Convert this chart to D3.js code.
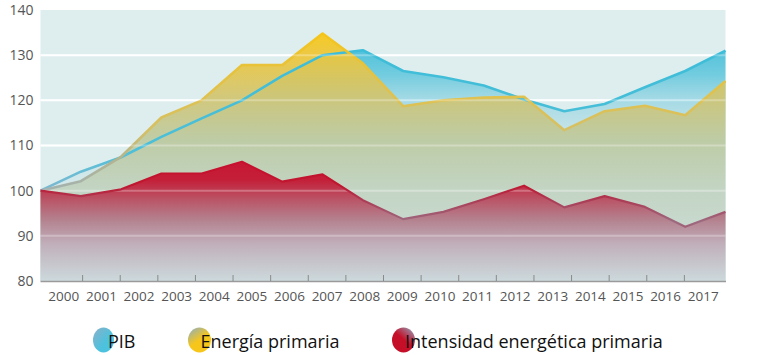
<!DOCTYPE html>
<html>
<head>
<meta charset="utf-8">
<script src="https://cdn.jsdelivr.net/npm/d3@7"></script>
<style>
  html, body { margin: 0; padding: 0; background: #ffffff; }
  svg { display: block; }
  text { font-family: "Open Sans", "Noto Sans", sans-serif; }
</style>
</head>
<body>
<svg id="chart" width="768" height="355"></svg>
<script>
const years = [2000, 2001, 2002, 2003, 2004, 2005, 2006, 2007, 2008, 2009, 2010, 2011, 2012, 2013, 2014, 2015, 2016, 2017];
const pib        = [100, 104.2, 107.4, 111.9, 116.0, 120.0, 125.4, 130.0, 131.1, 126.5, 125.1, 123.3, 120.2, 117.6, 119.2, 122.9, 126.5, 131.0];
const energia    = [100, 102.1, 107.5, 116.2, 120.0, 127.8, 127.8, 134.8, 128.2, 118.7, 120.0, 120.6, 120.8, 113.4, 117.6, 118.8, 116.7, 124.3];
const intensidad = [100, 98.8, 100.3, 103.8, 103.8, 106.4, 102.0, 103.6, 97.9, 93.7, 95.3, 98.1, 101.1, 96.3, 98.8, 96.4, 92.0, 95.3];
const yTicks = [80, 90, 100, 110, 120, 130, 140];
const seriesNames = ["PIB", "Energía primaria", "Intensidad energética primaria"];

const svg = d3.select("#chart");
const pLeft = 40.5, pRight = 725.5, pTop = 10, pBottom = 281;

const x = d3.scaleLinear().domain([2000, 2017]).range([pLeft, pRight]);
const y = d3.scaleLinear().domain([80, 140]).range([pBottom, pTop]);
const xLab = d3.scaleBand().domain(years).range([45, 722]);

const defs = svg.append("defs");
function vGradPx(id, stops) {
  const g = defs.append("linearGradient").attr("id", id)
    .attr("gradientUnits", "userSpaceOnUse")
    .attr("x1", 0).attr("x2", 0).attr("y1", pTop).attr("y2", pBottom);
  stops.forEach(s => g.append("stop")
    .attr("offset", Math.max(0, Math.min(1, (s[0] - pTop) / (pBottom - pTop))))
    .attr("stop-color", s[1]).attr("stop-opacity", s[2] == null ? 1 : s[2]));
}

vGradPx("gBlue", [[10, "#38bbd8", 0.95], [50, "#42bdd8", 0.9], [75, "#4fc1da", 0.75], [100, "#6cc6dc", 0.5], [140, "#9ccfdc", 0.3], [281, "#cfe2e6", 0.1]]);
vGradPx("gYellow", [[30, "#f8c816", 0.96], [60, "#ebc640", 0.93], [100, "#cfc472", 0.9], [140, "#bcc89c", 0.88], [190, "#c0d1bd", 0.86], [281, "#cddfdc", 0.85]]);
vGradPx("gRed", [[160, "#c8102e", 0.97], [180, "#c41632", 0.95], [200, "#b94a5f", 0.92], [220, "#b27888", 0.9], [244, "#bfa9b7", 0.88], [281, "#ccd8dc", 0.85]]);

vGradPx("sBlue", [[10, "#36bcd9"], [150, "#4dbfd8"], [175, "#6cbcd4"], [195, "#86b6cc"]]);
vGradPx("sYellow", [[30, "#f7c516"], [70, "#e6c23e"], [130, "#d6c064"], [158, "#b4b48e"], [190, "#a3b2b0"]]);
vGradPx("sRed", [[160, "#c8102e"], [185, "#c0162f"], [202, "#aa405a"], [222, "#9c6a80"], [235, "#a85068"]]);

const legGrads = [
  ["lBlue", "#8cb0c8", "#4cc2de", [0, 0, 1, 1]],
  ["lYellow", "#8aaec6", "#f7c61a", [0, 0, 0.6, 1]],
  ["lRed", "#8eaac4", "#c50f28", [1, 0, 0.3, 0.9]]
];
legGrads.forEach(([id, c0, c1, v]) => {
  const g = defs.append("linearGradient").attr("id", id)
    .attr("x1", v[0]).attr("y1", v[1]).attr("x2", v[2]).attr("y2", v[3]);
  g.append("stop").attr("offset", 0).attr("stop-color", c0);
  g.append("stop").attr("offset", 0.6).attr("stop-color", c1);
  g.append("stop").attr("offset", 1).attr("stop-color", c1);
});

// plot background
svg.append("rect").attr("x", pLeft).attr("y", pTop)
  .attr("width", pRight - pLeft).attr("height", pBottom - pTop)
  .attr("fill", "#deeeee");

const gridVals = yTicks.filter(d => d > 80 && d < 140);
// gridlines (under areas)
svg.append("g").selectAll("line")
  .data(gridVals)
  .join("line")
  .attr("x1", pLeft).attr("x2", pRight)
  .attr("y1", d => y(d)).attr("y2", d => y(d))
  .attr("stroke", "#ffffff").attr("stroke-width", 2);

const area = d3.area().x((d, i) => x(years[i])).y0(y(80)).y1(d => y(d));
const line = d3.line().x((d, i) => x(years[i])).y(d => y(d));

svg.append("path").datum(pib).attr("d", area).attr("fill", "url(#gBlue)");
svg.append("path").datum(energia).attr("d", area).attr("fill", "url(#gYellow)");
svg.append("path").datum(pib).attr("d", line).attr("fill", "none")
  .attr("stroke", "url(#sBlue)").attr("stroke-width", 2.6).attr("stroke-linejoin", "round");
svg.append("path").datum(energia).attr("d", line).attr("fill", "none")
  .attr("stroke", "url(#sYellow)").attr("stroke-width", 2.6).attr("stroke-linejoin", "round");
svg.append("path").datum(intensidad).attr("d", area).attr("fill", "url(#gRed)");

// faint gridlines showing through the areas
svg.append("g").selectAll("line")
  .data(gridVals)
  .join("line")
  .attr("x1", pLeft).attr("x2", pRight)
  .attr("y1", d => y(d)).attr("y2", d => y(d))
  .attr("stroke", "#ffffff").attr("stroke-opacity", 0.28).attr("stroke-width", 2);

svg.append("path").datum(intensidad).attr("d", line).attr("fill", "none")
  .attr("stroke", "url(#sRed)").attr("stroke-width", 2.2).attr("stroke-linejoin", "round");

// y axis
const yAxis = svg.append("g").attr("transform", `translate(${pLeft},0)`)
  .call(d3.axisLeft(y).tickValues(yTicks).tickSize(0).tickPadding(7).tickFormat(d3.format("d")));
yAxis.select(".domain").remove();
yAxis.selectAll("text").attr("fill", "#555").style("font-size", "14px");

// x axis
const xAxis = svg.append("g").attr("transform", `translate(0,${pBottom})`)
  .call(d3.axisBottom(xLab).tickSize(0).tickPadding(10));
xAxis.select(".domain").remove();
xAxis.selectAll("text").attr("fill", "#555").style("font-size", "13.5px");

svg.append("line").attr("x1", pLeft).attr("x2", pRight + 0.5)
  .attr("y1", pBottom + 0.5).attr("y2", pBottom + 0.5)
  .attr("stroke", "#9a9a9a").attr("stroke-width", 1.5);
svg.append("g").selectAll("line")
  .data(years.slice(1))
  .join("line")
  .attr("x1", d => xLab(d)).attr("x2", d => xLab(d))
  .attr("y1", pBottom - 6).attr("y2", pBottom)
  .attr("stroke", "#8a8a8a").attr("stroke-width", 1);

// legend
const legend = [
  { name: seriesNames[0], cx: 103.5, rx: 10.5, grad: "lBlue", tx: 108 },
  { name: seriesNames[1], cx: 199.5, rx: 11.5, grad: "lYellow", tx: 200.5 },
  { name: seriesNames[2], cx: 403.5, rx: 11.5, grad: "lRed", tx: 405 }
];
const lg = svg.append("g");
legend.forEach(l => {
  lg.append("ellipse").attr("cx", l.cx).attr("cy", 340).attr("rx", l.rx).attr("ry", 12.5)
    .attr("fill", `url(#${l.grad})`);
  lg.append("text").attr("x", l.tx).attr("y", 347.5).text(l.name)
    .attr("fill", "#111").style("font-size", "18px");
});
</script>
</body>
</html>
